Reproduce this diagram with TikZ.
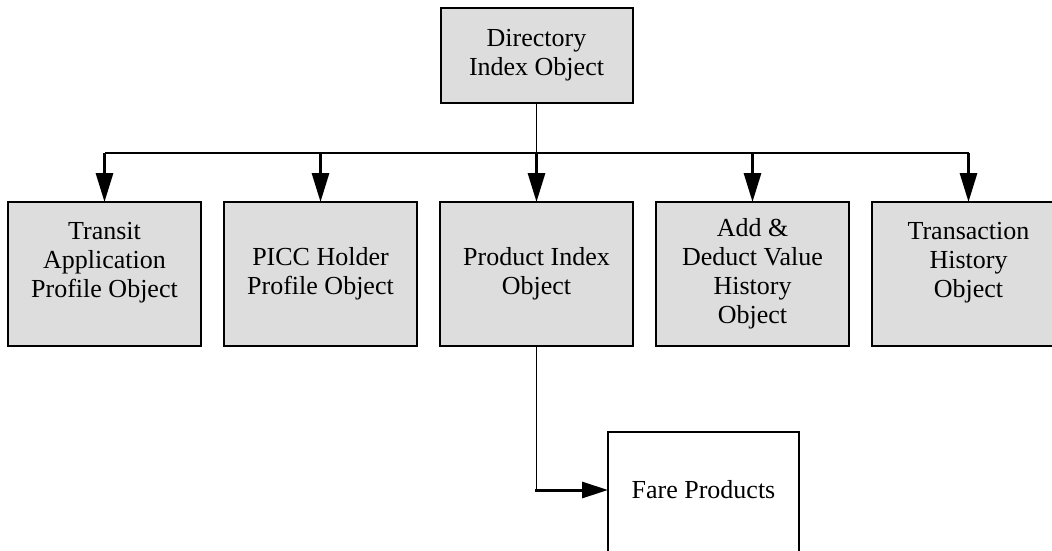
\documentclass[tikz,border=0pt]{standalone}
\usepackage{fontspec}
\setmainfont{Liberation Serif}
\usetikzlibrary{arrows.meta}
\definecolor{boxgray}{RGB}{221,221,221}
\tikzset{
  objbox/.style={draw=black, line width=2pt, fill=boxgray, align=center,
    minimum width=193pt, minimum height=144pt, inner sep=0pt, outer sep=0pt,
    font=\fontsize{26}{29}\selectfont},
  topbox/.style={objbox, minimum width=192pt, minimum height=95pt},
  farebox/.style={objbox, fill=white, minimum width=191pt, minimum height=128pt},
  thinline/.style={draw=black, line width=1.8pt},
  busline/.style={draw=black, line width=1.8pt},
  downarrow/.style={draw=black, line width=3pt,
    -{Triangle[length=29pt, width=17pt]}},
  rightarrow/.style={draw=black, line width=3pt,
    -{Triangle[length=26pt, width=16pt]}}
}
\begin{document}
\begin{tikzpicture}[x=1pt, y=-1pt]
\useasboundingbox (0,0) rectangle (1052,550);
\clip (0,0) rectangle (1052,550);

\node[topbox] (dir) at (536.5,55.5) {Directory\\Index Object};

\node[objbox] (tap)  at (104.5,274) {Transit\\Application\\Profile Object\\~};
\node[objbox] (picc) at (320.5,274) {PICC Holder\\Profile Object};
\node[objbox] (pio)  at (536.5,274) {Product Index\\Object};
\node[objbox] (adv)  at (752.5,274) {Add \&\\Deduct Value\\History\\Object};
\node[objbox] (tho)  at (968.5,274) {Transaction\\History\\Object\\~};

\node[farebox] (fare) at (703.5,496) {\raisebox{14pt}{Fare Products}};

\coordinate (busL) at (104.5,153);
\coordinate (busA) at (320.5,153);
\coordinate (busC) at (536.5,153);
\coordinate (busD) at (752.5,153);
\coordinate (busR) at (968.5,153);
\coordinate (bend) at (536.5,490);

\draw[thinline] (dir.south) -- (busC);
\draw[busline] (busL) -- (busR);

\draw[downarrow] (busL) -- (tap.north);
\draw[downarrow] (busA) -- (picc.north);
\draw[downarrow] (busC) -- (pio.north);
\draw[downarrow] (busD) -- (adv.north);
\draw[downarrow] (busR) -- (tho.north);

\draw[thinline] (pio.south) -- (bend);
\draw[rightarrow] ([xshift=-1.5pt]bend) -- (fare.west |- bend);
\end{tikzpicture}
\end{document}
